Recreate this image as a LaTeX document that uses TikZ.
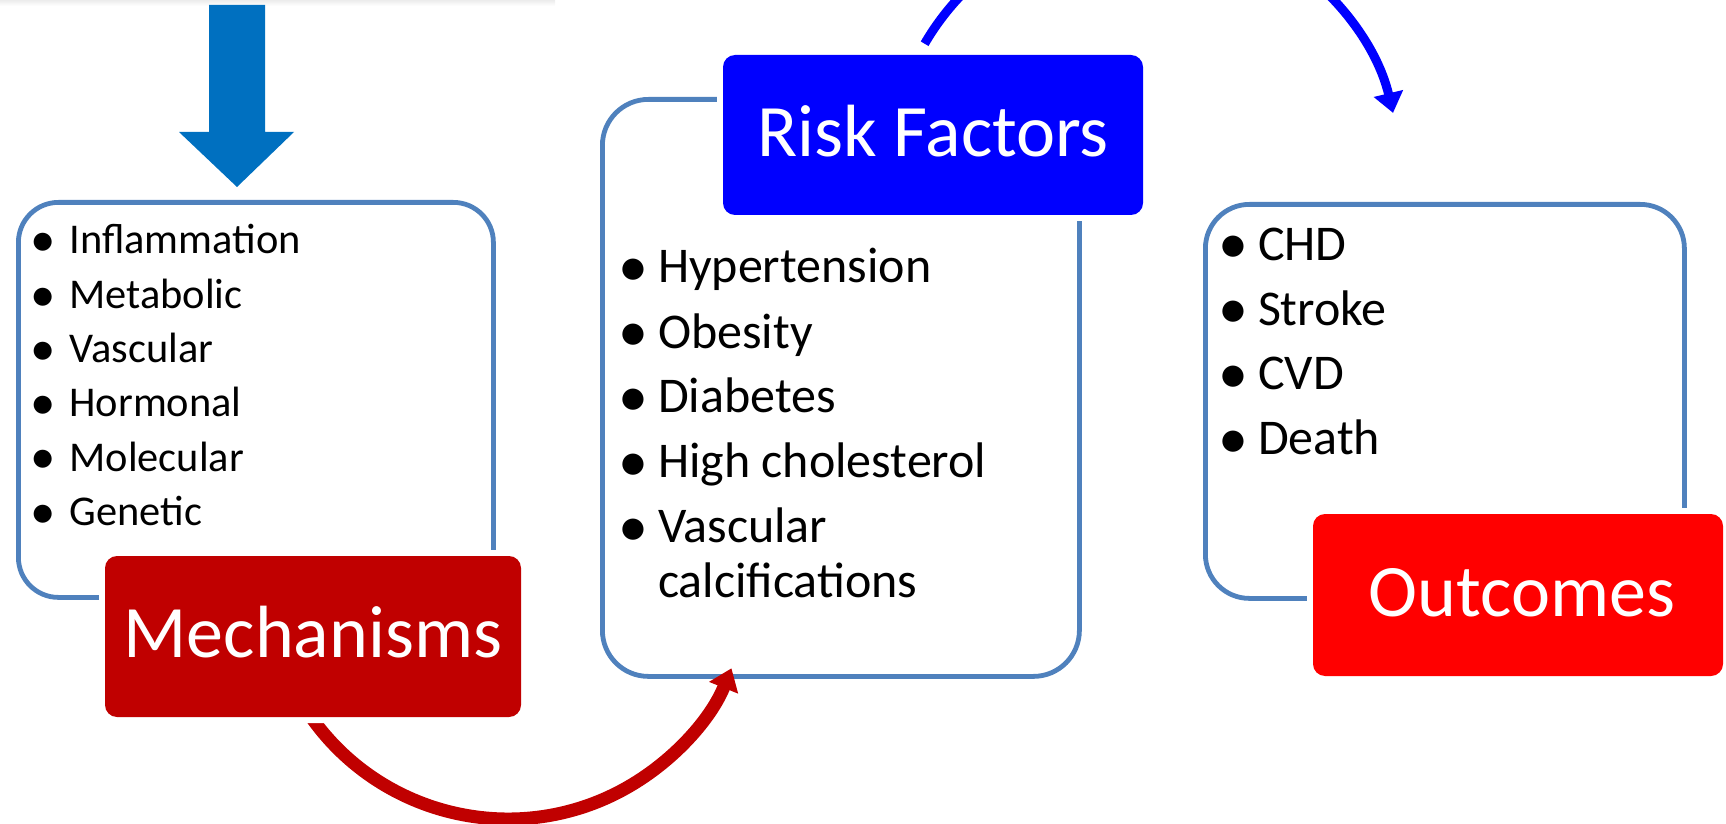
\documentclass[tikz,border=0pt]{standalone}
\usepackage{fontspec}
\setmainfont{Carlito}
\usetikzlibrary{arrows.meta,calc}
\definecolor{boxline}{HTML}{4F81BD}
\definecolor{arrowblue}{HTML}{0070C0}
\definecolor{riskblue}{HTML}{0000FF}
\definecolor{mechred}{HTML}{C00000}
\definecolor{outred}{HTML}{FF0000}
\definecolor{shade}{HTML}{ECECEC}
\newcommand\bul[1]{\llap{\makebox[0pt][c]{\raisebox{-0.065em}{\scalebox{1.2}{•}}}\hspace{#1}}}
\begin{document}
\begin{tikzpicture}[x=0.5pt,y=-0.5pt,
  listbox/.style={draw=boxline, line width=2.4pt, rounded corners=20pt, fill=white,
    anchor=north west, inner sep=0pt},
  labelbox/.style={rounded corners=6pt, inner sep=0pt, text=white,
    font=\fontsize{37}{44}\selectfont, text height=21pt, text depth=0pt,
    preaction={draw=white, line width=6pt}},
  listtext/.style={anchor=base west, inner sep=0pt, outer sep=0pt},
  redarc/.style={draw=mechred, line width=6.5pt, -{Triangle[width=15pt,length=10.5pt]}},
  bluearc/.style={draw=riskblue, line width=4.5pt, -{Triangle[width=14.5pt,length=10pt]}}]
\useasboundingbox (0,0) rectangle (1726,824);
\clip (0,0) rectangle (1726,824);
\shade[top color=shade, bottom color=white] (0,0) rectangle (555,6);

% list boxes
\node[listbox, minimum width=237.5pt, minimum height=197.5pt] (mechbox) at (16,200) {};
\node[listbox, minimum width=238.5pt, minimum height=288.5pt, rounded corners=23pt] (riskbox) at (600,97) {};
\node[listbox, minimum width=239.5pt, minimum height=197pt, rounded corners=22pt] (outbox) at (1203,202) {};

% connectors (arcs)
\coordinate (rc) at (508,578);
\coordinate (rs) at ($(rc)+(150:241)$);
\draw[redarc] (rs) arc[start angle=-150, end angle=-22, radius=120.5pt];
\coordinate (bc) at (1145,172);
\coordinate (bs) at ($(bc)+(-149.8:255)$);
\draw[bluearc] (bs) arc[start angle=149.8, end angle=13.4, radius=127.5pt];

% label boxes
\node[labelbox, fill=mechred, minimum width=208pt, minimum height=80.5pt] (mech) at (313,636.5) {Mechanisms};
\node[labelbox, fill=riskblue, minimum width=210pt, minimum height=80pt] (risk) at (933,135) {Risk Factors};
\node[labelbox, fill=outred, minimum width=205pt, minimum height=81pt] (out) at (1518,595) {\hspace*{4pt}Outcomes};

% block arrow
\fill[arrowblue] (209,5) -- (265,5) -- (265,132) -- (294,132) -- (237,187) -- (179,132) -- (209,132) -- cycle;

% list texts
\node[listtext] (mechlist) at (69.5,254) {\fontsize{21.2}{27.15}\selectfont
  \begin{tabular}[t]{@{}l@{}}
  \bul{13pt}Inflammation\\
  \bul{13pt}Metabolic\\
  \bul{13pt}Vascular\\
  \bul{13pt}Hormonal\\
  \bul{13pt}Molecular\\
  \bul{13pt}Genetic
  \end{tabular}};
\node[listtext] (risklist) at (658,283) {\fontsize{25}{32.5}\selectfont
  \begin{tabular}[t]{@{}l@{}}
  \bul{12.5pt}Hypertension\\
  \bul{12.5pt}Obesity\\
  \bul{12.5pt}Diabetes\\
  \bul{12.5pt}High cholesterol\\
  \bul{12.5pt}Vascular\\[-5pt]
  calcifications
  \end{tabular}};
\node[listtext] (outlist) at (1258,260) {\fontsize{25}{32.5}\selectfont
  \begin{tabular}[t]{@{}l@{}}
  \bul{12.5pt}CHD\\
  \bul{12.5pt}Stroke\\
  \bul{12.5pt}CVD\\
  \bul{12.5pt}Death
  \end{tabular}};
\end{tikzpicture}
\end{document}
